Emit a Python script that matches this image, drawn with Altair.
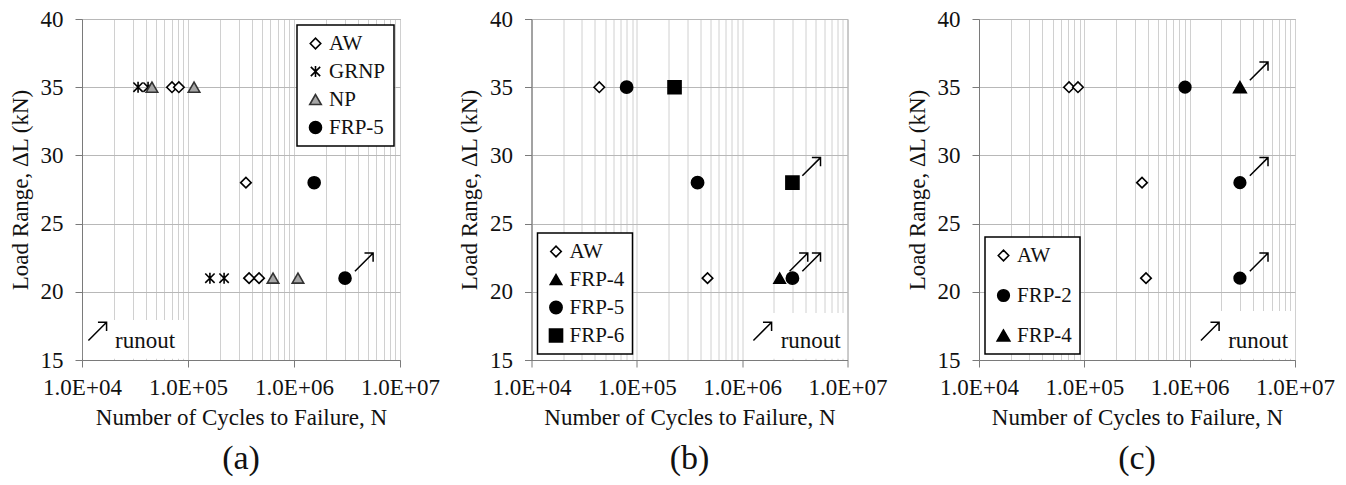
import altair as alt
import pandas as pd

FONT = "Liberation Serif"

# ---------------- data ----------------
# Panel (a)
a_series = ["AW", "AW", "AW", "AW", "AW",
            "GRNP", "GRNP", "GRNP", "GRNP",
            "NP", "NP", "NP", "NP",
            "FRP-5", "FRP-5"]
a_cycles = [70600, 82000, 352000, 377000, 468000,
            33800, 42000, 161000, 219000,
            45700, 114000, 634000, 1090000,
            1550000, 3030000]
a_load = [35, 35, 28, 21, 21,
          35, 35, 21, 21,
          35, 35, 21, 21,
          28, 21]
a_runout = [0, 0, 0, 0, 0, 0, 0, 0, 0, 0, 0, 0, 0, 0, 1]

# Panel (b)
b_series = ["AW", "AW", "FRP-4", "FRP-5", "FRP-5", "FRP-5", "FRP-6", "FRP-6"]
b_cycles = [44000, 469000, 2270000, 80000, 377000, 3000000, 228000, 3000000]
b_load = [35, 21, 21, 35, 28, 21, 35, 28]
b_runout = [0, 0, 1, 0, 0, 1, 0, 1]

# Panel (c)
c_series = ["AW", "AW", "AW", "AW", "FRP-2", "FRP-2", "FRP-2", "FRP-4"]
c_cycles = [71600, 87000, 353000, 385000, 904000, 3000000, 3000000, 3000000]
c_load = [35, 35, 28, 21, 35, 28, 21, 35]
c_runout = [0, 0, 0, 0, 0, 1, 1, 1]

# "runout" key (arrow + label) and the white patch behind it, per panel
key_arrow_N = [14000, 1560000, 1560000]
key_text_N = [20500, 2320000, 2320000]
key_arrow_L = [17.1, 17.1, 17.1]
key_text_L = [16.4, 16.4, 16.4]
patch_N = [10200, 1500000, 1400000]
patch_N2 = [95000, 9900000, 9900000]
patch_L = [15.1, 15.1, 15.1]
patch_L2 = [17.93, 18.45, 18.6]

x_ticks = [m * 10 ** e for e in range(4, 7) for m in range(1, 10)] + [10 ** 7]
y_ticks = [15, 20, 25, 30, 35, 40]

ASTERISK = "M-0.85,-0.85L0.85,0.85M-0.85,0.85L0.85,-0.85M0,-1L0,1"
ARROW = "M-1,1L1,-1M0.05,-1L1,-1L1,-0.05"

STYLE = {
    "AW": ("diamond", "white", "black", 110),
    "GRNP": (ASTERISK, "transparent", "black", 144),
    "NP": ("triangle-up", "#a6a6a6", "#333333", 130),
    "FRP-2": ("circle", "black", "black", 160),
    "FRP-4": ("triangle-up", "black", "black", 170),
    "FRP-5": ("circle", "black", "black", 160),
    "FRP-6": ("square", "black", "black", 150),
}

IS_DECADE = "abs(log(datum.value)/LN10 - round(log(datum.value)/LN10)) < 0.001"


def panel(idx, series, cycles, load, runout, domain, orient, row_pad, width, label):
    df = pd.DataFrame({"series": series, "N": cycles, "load": load, "runout": runout})
    xs = alt.Scale(type="log", domain=[1e4, 1e7])
    ys = alt.Scale(domain=[15, 40], nice=False, zero=False)
    x_axis = alt.Axis(
        values=x_ticks, title="Number of Cycles to Failure, N",
        labelExpr=IS_DECADE + " ? '1.0E+0' + round(log(datum.value)/LN10) : ''",
        labelOverlap=False, labelFlush=False, grid=True, gridColor="#d0d0d0",
        tickOpacity={"condition": {"test": IS_DECADE, "value": 1}, "value": 0},
        tickSize=7, labelPadding=9, titlePadding=7,
    )
    y_axis = alt.Axis(
        values=y_ticks, title="Load Range, ΔL (kN)", grid=True, gridColor="#b8b8b8",
        tickSize=7, labelPadding=12, titlePadding=8,
    )
    x = alt.X("N:Q", scale=xs, axis=x_axis)
    y = alt.Y("load:Q", scale=ys, axis=y_axis)

    shapes = [STYLE[s][0] for s in domain]
    fills = [STYLE[s][1] for s in domain]
    strokes = [STYLE[s][2] for s in domain]
    sizes = [STYLE[s][3] for s in domain]

    legend = alt.Legend(
        title=None, orient=orient, offset=6, padding=8, rowPadding=row_pad,
        fillColor="white", strokeColor="black", labelFont=FONT, labelFontSize=21,
        labelColor="#111", labelOffset=3, symbolStrokeWidth=1.6,
    )

    patch = pd.DataFrame({"N": [patch_N[idx]], "N2": [patch_N2[idx]],
                          "load": [patch_L[idx]], "load2": [patch_L2[idx]]})
    rect = alt.Chart(patch).mark_rect(fill="white").encode(
        x=x, x2="N2:Q", y=y, y2="load2:Q")

    pts = alt.Chart(df).mark_point(filled=True, opacity=1, strokeWidth=1.6).encode(
        x=x, y=y,
        shape=alt.Shape("series:N", scale=alt.Scale(domain=domain, range=shapes), legend=legend),
        fill=alt.Fill("series:N", scale=alt.Scale(domain=domain, range=fills), legend=legend),
        stroke=alt.Stroke("series:N", scale=alt.Scale(domain=domain, range=strokes), legend=legend),
        size=alt.Size("series:N", scale=alt.Scale(domain=domain, range=sizes), legend=legend),
    )

    arrows = alt.Chart(df).transform_filter("datum.runout == 1").mark_point(
        shape=ARROW, size=330, filled=False, stroke="black", strokeWidth=1.5,
        xOffset=19, yOffset=-16, opacity=1,
    ).encode(x=x, y=y)

    key = pd.DataFrame({"N": [key_arrow_N[idx]], "load": [key_arrow_L[idx]],
                        "tN": [key_text_N[idx]], "tL": [key_text_L[idx]], "t": ["runout"]})
    key_arrow = alt.Chart(key).mark_point(
        shape=ARROW, size=330, filled=False, stroke="black", strokeWidth=1.5, opacity=1,
    ).encode(x=x, y=y)
    key_text = alt.Chart(key).mark_text(
        align="left", baseline="middle", font=FONT, fontSize=23, color="#111",
    ).encode(x=alt.X("tN:Q", scale=xs, axis=x_axis), y=alt.Y("tL:Q", scale=ys, axis=y_axis), text="t:N")

    return alt.layer(rect, pts, arrows, key_arrow, key_text).properties(
        width=width, height=341,
        title=alt.TitleParams(label, orient="bottom", fontSize=34, font=FONT,
                              fontWeight="normal", color="#111", offset=13),
    )


pa = panel(0, a_series, a_cycles, a_load, a_runout, ["AW", "GRNP", "NP", "FRP-5"], "top-right", 6, 318, "(a)")
pb = panel(1, b_series, b_cycles, b_load, b_runout, ["AW", "FRP-4", "FRP-5", "FRP-6"], "bottom-left", 6, 316, "(b)")
pc = panel(2, c_series, c_cycles, c_load, c_runout, ["AW", "FRP-2", "FRP-4"], "bottom-left", 18, 316, "(c)")

chart = alt.hconcat(pa, pb, pc, spacing=131.5, bounds="flush").resolve_scale(
    shape="independent", fill="independent", stroke="independent", size="independent",
).configure_axis(
    labelFont=FONT, labelFontSize=23, labelColor="#111",
    titleFont=FONT, titleFontSize=23, titleFontWeight="normal", titleColor="#111",
    domainColor="#7a7a7a", tickColor="#7a7a7a",
).configure_legend(
    labelFont=FONT, strokeWidth=1.5,
).configure_text(
    font=FONT,
).configure_view(stroke="#8a8a8a").properties(
    padding={"left": 8, "top": 7, "right": 5, "bottom": 5},
    background="white",
)

chart.save("out.html", embed_options={"renderer": "svg", "actions": False})
